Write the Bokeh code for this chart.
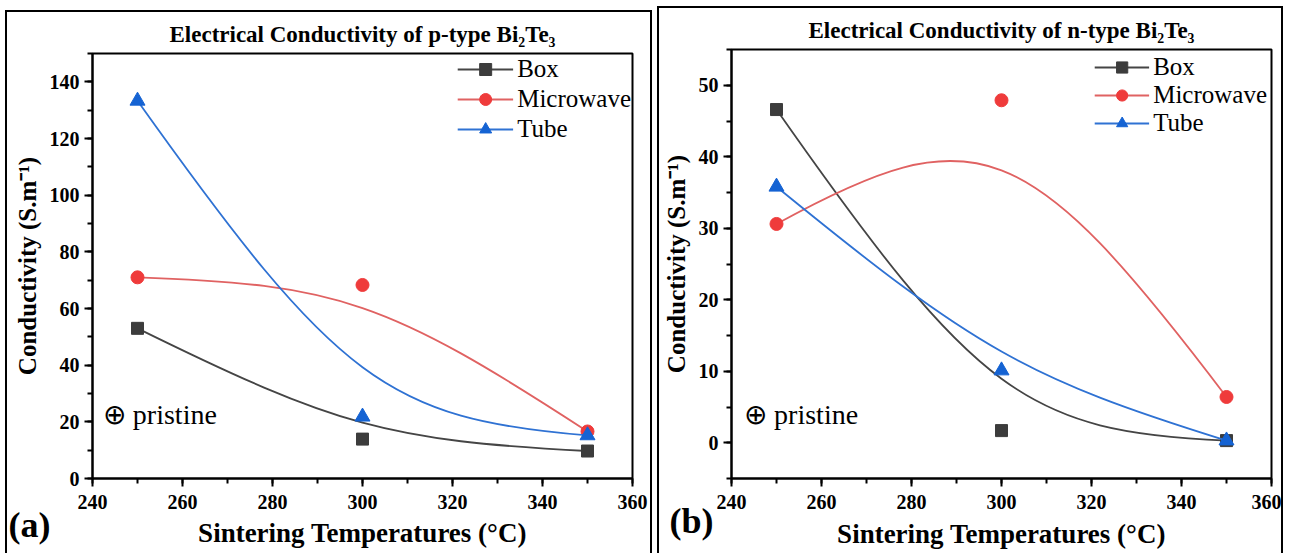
import numpy as np
from bokeh.plotting import figure
from bokeh.layouts import row, column
from bokeh.models import Legend, LegendItem, Label, Range1d, SingleIntervalTicker
from bokeh.embed import file_html
from bokeh.resources import INLINE

# ---------------- data ----------------
temps = [250, 300, 350]
series_names = ["Box", "Microwave", "Tube"]

p_box = [53.0, 13.9, 9.7]
p_microwave = [71.0, 68.3, 16.6]
p_tube = [133.3, 21.8, 15.2]

n_box = [46.6, 1.7, 0.3]
n_microwave = [30.6, 47.9, 6.4]
n_tube = [35.8, 10.1, 0.3]

x_tick_interval = 20
p_y_tick_interval = 20
n_y_tick_interval = 10

# ---------------- styles ----------------
FONT = "Liberation Serif"
marker_styles = {
    "Box": dict(marker="square", size=12, fill_color="#3c3c3c", line_color="#3c3c3c"),
    "Microwave": dict(marker="circle", size=13, fill_color="#ef3b3b", line_color="#ef3b3b"),
    "Tube": dict(marker="triangle", size=15, fill_color="#1563d3", line_color="#1563d3"),
}
line_colors = {"Box": "#454545", "Microwave": "#e06262", "Tube": "#2f72d3"}


def bezier_from_points(xs, ys, k=8.0 / 9.0):
    """Smooth B-spline-like curve (Origin style) using the middle point as a control point."""
    x0, xm, x2 = xs
    y0, ym, y2 = ys
    return dict(
        x0=[x0], y0=[y0], x1=[x2], y1=[y2],
        cx0=[x0 + k * (xm - x0)], cy0=[y0 + k * (ym - y0)],
        cx1=[x2 + k * (xm - x2)], cy1=[y2 + k * (ym - y2)],
    )


def make_panel(title, series, y_range, y_interval, width, height, borders, margin,
               legend_cfg, pristine_xy, x_standoffs):
    p = figure(width=width, height=height, output_backend="svg", toolbar_location=None,
               x_range=Range1d(240, 360), y_range=Range1d(*y_range),
               min_border_left=borders[0], min_border_right=borders[1],
               min_border_top=borders[2], min_border_bottom=borders[3],
               margin=margin)
    p.styles = {"border": "2px solid black", "border-bottom": "none",
                "box-sizing": "content-box"}
    p.grid.visible = False
    p.outline_line_color = "black"
    p.outline_line_width = 2
    p.outline_line_alpha = 1

    p.title.text = title
    p.title.align = "center"
    p.title.text_font = FONT
    p.title.text_font_style = "bold"
    p.title.text_font_size = "23px"
    p.title.text_color = "black"
    p.title.standoff = 14

    p.xaxis.ticker = SingleIntervalTicker(interval=x_tick_interval, num_minor_ticks=2)
    p.yaxis.ticker = SingleIntervalTicker(interval=y_interval, num_minor_ticks=2)
    for ax in (p.xaxis[0], p.yaxis[0]):
        ax.axis_line_width = 2
        ax.major_tick_line_width = 2
        ax.minor_tick_line_width = 2
        ax.major_tick_out = 8
        ax.major_tick_in = 0
        ax.minor_tick_out = 5
        ax.minor_tick_in = 0
        ax.major_label_text_font = FONT
        ax.major_label_text_font_style = "bold"
        ax.major_label_text_font_size = "20px"
        ax.major_label_text_color = "black"
        ax.axis_label_text_font = FONT
        ax.axis_label_text_font_style = "bold"
        ax.axis_label_text_color = "black"
    p.xaxis.axis_label_text_font_size = "27px"
    p.yaxis.axis_label_text_font_size = "25px"
    p.xaxis.axis_label = "Sintering Temperatures (\u00b0C)"
    p.yaxis.axis_label = "Conductivity (S.m\u207b\u00b9)"
    p.xaxis.major_label_standoff = x_standoffs[0]
    p.xaxis.axis_label_standoff = x_standoffs[1]
    p.yaxis.major_label_standoff = 5
    p.yaxis.axis_label_standoff = 6

    items = []
    for name, vals in zip(series_names, series):
        bz = p.bezier(**bezier_from_points(temps, vals), line_color=line_colors[name], line_width=1.8)
        sc = p.scatter(temps, vals, **marker_styles[name])
        items.append(LegendItem(label=name, renderers=[bz, sc]))

    legend = Legend(items=items, location="top_right", margin=0, padding=legend_cfg["padding"],
                    spacing=0, glyph_width=legend_cfg["glyph_width"], glyph_height=legend_cfg["row"],
                    label_height=legend_cfg["row"], label_standoff=4,
                    label_text_font=FONT, label_text_font_size="25px", label_text_color="black",
                    background_fill_alpha=0, border_line_alpha=0)
    p.add_layout(legend)

    p.add_layout(Label(x=pristine_xy[0], y=pristine_xy[1], text="\u2295 pristine",
                       text_font=FONT, text_font_size="28px", text_color="black",
                       text_baseline="middle", text_align="left"))
    return p


# page has no body margin: left panel box spans x 5..652 from y 10, right panel 657..1283 from y 6
left = make_panel("Electrical Conductivity of p-type Bi\u2082Te\u2083",
                  [p_box, p_microwave, p_tube], (0, 150), p_y_tick_interval,
                  643, 541, (85, 22, 36, 73), (10, 0, 0, 5),
                  dict(padding=1, glyph_width=56, row=30),
                  (242.3, 22.5), (8, 6))
right = make_panel("Electrical Conductivity of n-type Bi\u2082Te\u2083",
                   [n_box, n_microwave, n_tube], (-5, 55), n_y_tick_interval,
                   622, 545, (68, 14, 35, 77), (6, 0, 0, 5),
                   dict(padding=4, glyph_width=55, row=28),
                   (242.8, 4.0), (8, 7))

# overlay strip carrying the panel letters (a) and (b) over the bottom of both panels
OVERLAY_H = 60
overlay = figure(width=1283, height=OVERLAY_H, output_backend="svg", toolbar_location=None,
                 x_range=Range1d(0, 1283), y_range=Range1d(0, OVERLAY_H),
                 x_axis_type=None, y_axis_type=None, min_border=0,
                 background_fill_alpha=0, border_fill_alpha=0, outline_line_color=None,
                 margin=(-OVERLAY_H, 0, 0, 0))
overlay.grid.visible = False
# overlay spans page y = 493..553 (y measured up from the page bottom)
for txt, lx, ly in (("(a)", 8, 29), ("(b)", 669, 33)):
    overlay.add_layout(Label(x=lx, y=ly, text=txt, text_font=FONT, text_font_style="bold",
                             text_font_size="36px", text_color="black",
                             text_baseline="middle", text_align="left"))

layout = column(row(left, right, spacing=0), overlay, spacing=0)
open("out.html", "w").write(file_html(layout, INLINE))
